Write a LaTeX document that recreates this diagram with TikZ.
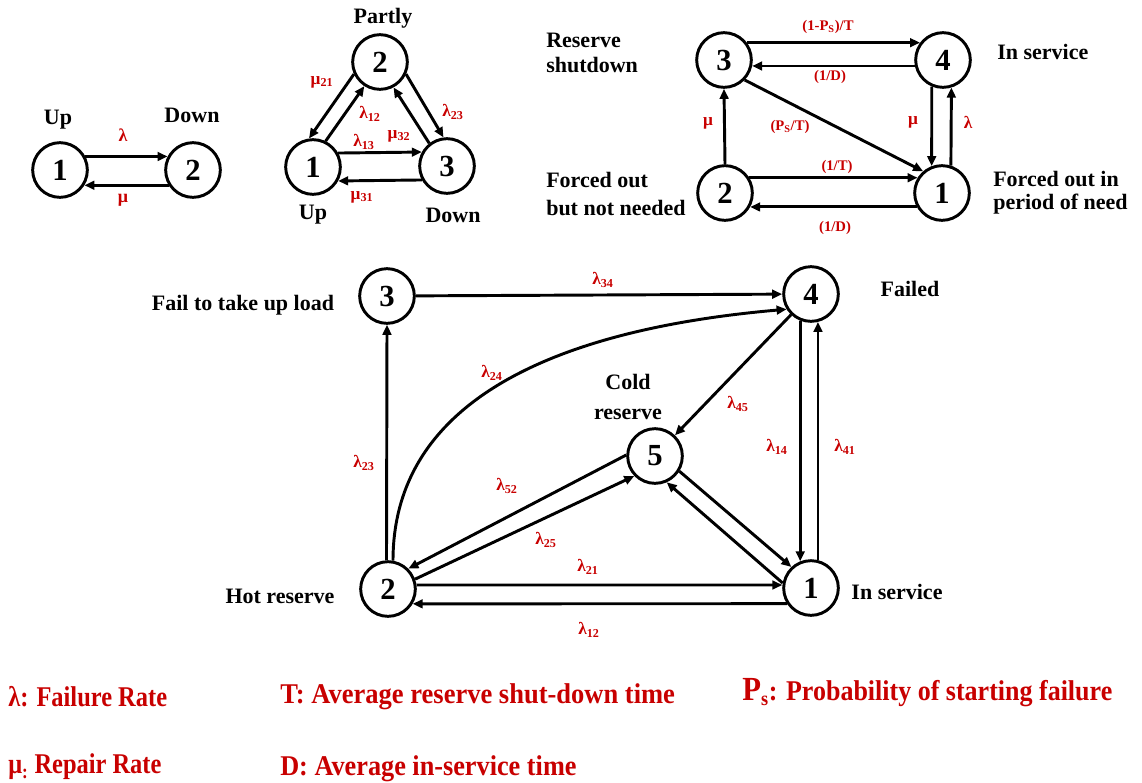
\documentclass[tikz,border=0pt]{standalone}
\usepackage{fontspec}
\setmainfont{Liberation Serif}
\usetikzlibrary{arrows.meta}
\definecolor{lab}{RGB}{200,0,0}
\begin{document}
\begin{tikzpicture}[x=0.75pt,y=-0.75pt,
  st/.style={circle,draw,line width=2.2pt,minimum size=41pt,inner sep=0pt,font=\fontsize{23}{23}\selectfont\bfseries},
  ar/.style={line width=2.2pt,-{Triangle[length=7.5pt,width=6.5pt]}},
  tx/.style={font=\fontsize{16.5}{19}\selectfont\bfseries,inner sep=0pt},
  rl/.style={text=lab,font=\fontsize{13}{14}\selectfont\bfseries,inner sep=0pt},
  rs/.style={text=lab,font=\fontsize{11}{13}\selectfont\bfseries,inner sep=0pt},
  lg/.style={text=lab,font=\fontsize{19.5}{22}\selectfont\bfseries,inner sep=0pt,anchor=west},
]
\useasboundingbox (0,0) rectangle (1142,782);

% ---------- Diagram A ----------
\node[st] (a1) at (60,170) {1};
\node[st] (a2) at (193,170) {2};
\draw[ar] (a1.28) -- (a2.152);
\draw[ar] (a2.212) -- (a1.328);
\node[rl,font=\fontsize{13.5}{14}\selectfont\bfseries] (alam) at (123,135) {λ};
\node[rl,font=\fontsize{13.5}{14}\selectfont\bfseries] (amu) at (123,200) {μ};
\node[tx] (aup) at (58,120) {Up};
\node[tx] (adown) at (192,115) {Down};

% ---------- Diagram B ----------
\node[st] (b1) at (313,167) {1};
\node[st] (b2) at (380,62) {2};
\node[st] (b3) at (447,166) {3};
\draw[ar] (b2.205) -- (b1.98);
\draw[ar] (b1.64) -- (b2.237);
\draw[ar] (b2.335) -- (b3.97);
\draw[ar] (b3.128) -- (b2.298);
\draw[ar] (b1.29) -- (b3.151);
\draw[ar] (b3.209) -- (b1.331);
\node[rl] (bm21) at (322,82) {μ\textsubscript{21}};
\node[rl] (bl12) at (370,114) {λ\textsubscript{12}};
\node[rl] (bl23) at (453,112) {λ\textsubscript{23}};
\node[rl] (bl13) at (364,142) {λ\textsubscript{13}};
\node[rl] (bm32) at (399,136) {μ\textsubscript{32}};
\node[rl] (bm31) at (362,197) {μ\textsubscript{31}};
\node[tx] (bpartly) at (383,18) {Partly};
\node[tx] (bup) at (313,215) {Up};
\node[tx] (bdown) at (453,215) {Down};

% ---------- Diagram C ----------
\node[st] (c3) at (724,60) {3};
\node[st] (c4) at (943,60) {4};
\node[st] (c2) at (725,193) {2};
\node[st] (c1) at (942,193) {1};
\draw[ar] (c3.37) -- (c4.143);
\draw[ar] (c4.192) -- (c3.348);
\draw[ar] (c2.north) -- (c3.south);
\draw[ar] (c3.316) -- (c1.131);
\draw[ar] (c4.247) -- (c1.111);
\draw[ar] (c1.72) -- (c4.287);
\draw[ar] (c2.32) -- (c1.148);
\draw[ar] (c1.209) -- (c2.331);
\node[rs] (cps) at (828,27) {(1-P\textsubscript{S})/T};
\node[rs] (cd1) at (830,77) {(1/D)};
\node[rl] (cmu1) at (708,123) {μ};
\node[rs] (cpst) at (790,127) {(P\textsubscript{S}/T)};
\node[rl] (cmu2) at (913,122) {μ};
\node[rl] (clam) at (968,122) {λ};
\node[rs] (ct) at (837,167) {(1/T)};
\node[rs] (cd2) at (835,228) {(1/D)};
\node[tx,align=left,anchor=west,font=\fontsize{16.5}{19}\selectfont\bfseries] (cres) at (546,53) {Reserve\\shutdown};
\node[tx,anchor=west] (cins) at (997,52) {In service};
\node[tx,align=left,anchor=west,font=\fontsize{16.5}{21}\selectfont\bfseries] (cfo) at (546,194) {Forced out\\but not needed};
\node[tx,align=left,anchor=west,font=\fontsize{16.5}{17.5}\selectfont\bfseries] (cfon) at (993,193) {Forced out in\\period of need};

% ---------- Diagram D ----------
\node[st] (d3) at (387,296) {3};
\node[st] (d4) at (811,294) {4};
\node[st] (d5) at (655,456) {5};
\node[st] (d1) at (811,588) {1};
\node[st] (d2) at (388,589) {2};
\draw[ar] (d3) -- (d4);
\draw[ar] (d2.93) -- (d3.south);
\draw[ar] (d2.80) to[out=90,in=185] (d4.212);
\draw[ar] (d4) -- (d5);
\draw[ar] (d5.178) -- (d2.45);
\draw[ar] (d2.20) -- (d5.224);
\draw[ar] (d5.328) -- (d1.133);
\draw[ar] (d1.170) -- (d5.294);
\draw[ar] (d4.248) -- (d1.112);
\draw[ar] (d1.76) -- (d4.284);
\draw[ar] (d2.8) -- (d1.174);
\draw[ar] (d1.213) -- (d2.329);
\node[rl] (dl34) at (603,280) {λ\textsubscript{34}};
\node[rl] (dl23) at (364,463) {λ\textsubscript{23}};
\node[rl] (dl24) at (492,373) {λ\textsubscript{24}};
\node[rl] (dl52) at (507,486) {λ\textsubscript{52}};
\node[rl] (dl25) at (546,540) {λ\textsubscript{25}};
\node[rl] (dl21) at (588,567) {λ\textsubscript{21}};
\node[rl] (dl12) at (589,630) {λ\textsubscript{12}};
\node[rl] (dl45) at (738,404) {λ\textsubscript{45}};
\node[rl] (dl14) at (777,447) {λ\textsubscript{14}};
\node[rl] (dl41) at (845,447) {λ\textsubscript{41}};
\node[tx] (dfail) at (243,305) {Fail to take up load};
\node[tx] (dfailed) at (910,289) {Failed};
\node[tx,align=center,font=\fontsize{16.5}{22}\selectfont\bfseries] (dcold) at (628,397) {Cold\\reserve};
\node[tx] (dhot) at (280,596) {Hot reserve};
\node[tx] (dins) at (897,592) {In service};

% ---------- Legend ----------
\node[lg] (g1) at (8,697) {\scalebox{0.94}[1.1]{λ: Failure Rate}};
\node[lg] (g2) at (280,697) {\scalebox{1.02}[1.1]{T: Average reserve shut-down time}};
\node[lg] (g3) at (742,693) {\scalebox{1}[1.1]{{\fontsize{23}{22}\selectfont P}\textsubscript{s}: Probability of starting failure}};
\node[lg] (g4) at (8,767) {\scalebox{0.94}[1.1]{μ\textsubscript{:} Repair Rate}};
\node[lg] (g5) at (280,769) {\scalebox{1.01}[1.1]{D: Average in-service time}};
\end{tikzpicture}
\end{document}
